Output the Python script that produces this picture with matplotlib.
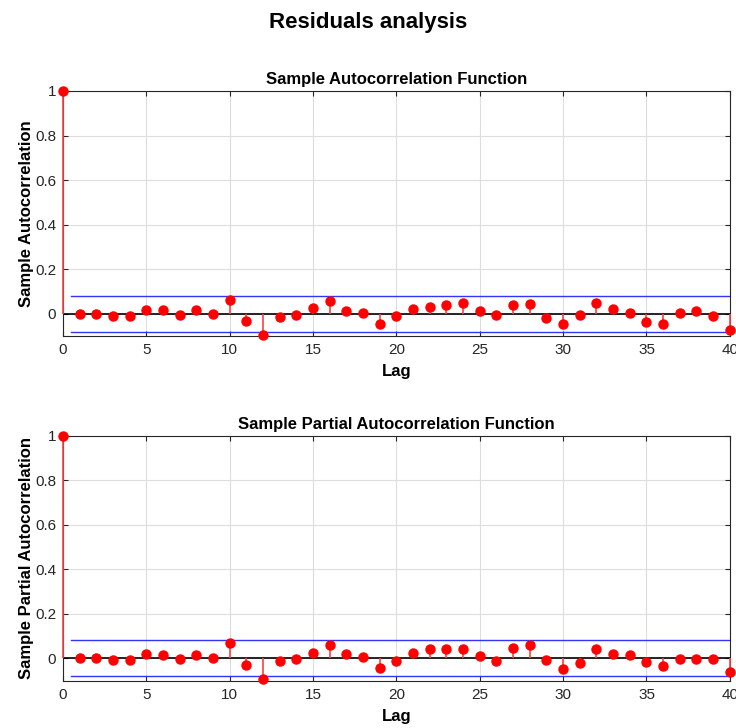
import numpy as np
import matplotlib.pyplot as plt

lags = np.arange(0, 41)

acf = [1.0, 0.0, 0.0, -0.01, -0.01, 0.018, 0.018, -0.003, 0.016, 0.0, 0.064,
       -0.03, -0.094, -0.012, -0.006, 0.025, 0.06, 0.013, 0.004, -0.046, -0.008,
       0.022, 0.033, 0.042, 0.048, 0.012, -0.004, 0.039, 0.043, -0.019, -0.046,
       -0.004, 0.051, 0.022, 0.006, -0.037, -0.046, 0.004, 0.012, -0.01, -0.07]

pacf = [1.0, 0.0, 0.0, -0.009, -0.01, 0.018, 0.016, -0.004, 0.015, -0.001, 0.066,
        -0.031, -0.096, -0.013, -0.006, 0.021, 0.06, 0.018, 0.004, -0.046, -0.012,
        0.025, 0.043, 0.039, 0.04, 0.009, -0.013, 0.045, 0.058, -0.009, -0.049,
        -0.024, 0.039, 0.019, 0.013, -0.018, -0.036, -0.006, -0.003, -0.006, -0.064]

bound = 0.081

titles = ['Sample Autocorrelation Function', 'Sample Partial Autocorrelation Function']
ylabels = ['Sample Autocorrelation', 'Sample Partial Autocorrelation']

plt.rcParams['font.family'] = ['Liberation Sans', 'DejaVu Sans']

fig = plt.figure(figsize=(7.36, 7.28), dpi=100)
fig.suptitle('Residuals analysis', fontsize=16, fontweight='bold', y=0.984)

positions = [[0.0856, 0.5385, 0.906, 0.3365], [0.0856, 0.0646, 0.906, 0.3365]]
ybottoms = [-0.099, -0.103]

for pos, vals, title, ylab, yb in zip(positions, [acf, pacf], titles, ylabels, ybottoms):
    ax = fig.add_axes(pos)
    vals = np.array(vals)
    ax.axhline(0, color='black', lw=1.2, zorder=2)
    ax.vlines(lags, 0, vals, color='#ff4040', lw=1.2, zorder=3, clip_on=False)
    ax.plot(lags, vals, 'o', color='red', ms=6.5, zorder=4, clip_on=False)
    ax.plot([0.5, 40], [bound, bound], color='#3333ff', lw=1.0, zorder=2)
    ax.plot([0.5, 40], [-bound, -bound], color='#3333ff', lw=1.0, zorder=2)
    ax.set_xlim(0, 40)
    ax.set_ylim(yb, 1)
    ax.set_xticks(np.arange(0, 41, 5))
    ax.set_yticks([0, 0.2, 0.4, 0.6, 0.8, 1])
    ax.set_yticklabels(['0', '0.2', '0.4', '0.6', '0.8', '1'])
    ax.grid(True, color='#dddddd', lw=0.8)
    ax.set_axisbelow(True)
    ax.tick_params(direction='in', top=True, right=True, labelsize=11, colors='#262626', pad=5)
    for s in ax.spines.values():
        s.set_color('#262626')
        s.set_linewidth(0.8)
    ax.set_title(title, fontsize=12, fontweight='bold', pad=5)
    ax.set_xlabel('Lag', fontsize=12, fontweight='bold', labelpad=5)
    ax.set_ylabel(ylab, fontsize=12, fontweight='bold', labelpad=1)

fig.savefig('out.png', dpi=100)
